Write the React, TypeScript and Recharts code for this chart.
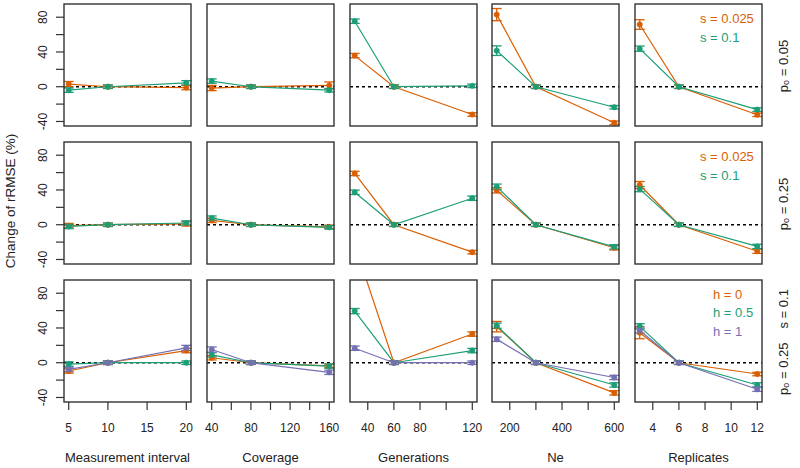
import React from 'react';
import { LineChart, Line, XAxis, YAxis, ReferenceLine, ErrorBar } from 'recharts';

// Dark2 palette
const ORANGE = '#D95F02';
const GREEN = '#1B9E77';
const PURPLE = '#7570B3';
const FONT = '"Liberation Sans", Arial, Helvetica, sans-serif';

// ---- x values / ticks per column ----
const intervalX = [5, 10, 20];
const coverageX = [40, 80, 160];
const generationsX = [30, 60, 120];
const neX = [150, 300, 600];
const replicatesX = [3, 6, 12];

const intervalTicks = [5, 10, 15, 20];
const coverageTicks = [40, 60, 80, 100, 120, 140, 160];
const generationsTicks = [40, 60, 80, 100, 120];
const neTicks = [200, 300, 400, 500, 600];
const replicatesTicks = [4, 6, 8, 10, 12];

const intervalLabels = [5, 10, 15, 20];
const coverageLabels = [40, 80, 120, 160];
const generationsLabels = [40, 60, 80, 120];
const neLabels = [200, 400, 600];
const replicatesLabels = [4, 6, 8, 10, 12];

const columnTitles = ['Measurement interval', 'Coverage', 'Generations', 'Ne', 'Replicates'];
const yTicks = [-40, -20, 0, 20, 40, 60, 80];
const yLabels = [-40, 0, 40, 80];

// ---- values, one inner array per column (interval, coverage, generations, Ne, replicates) ----
// p0 = 0.05
const p005S0025 = [[3, 0, -1], [-1.5, 0, 1.5], [35.8, 0, -32], [83, 0, -41.5], [71.6, 0, -32.3]];
const p005S0025Err = [[3, 2, 2.5], [3, 2, 4], [2.5, 2, 2], [7, 2, 2], [5.5, 2, 2]];
const p005S01 = [[-4, 0, 4.5], [6.5, 0, -4], [75.4, 0, 1], [41.5, 0, -23.6], [43.8, 0, -26.3]];
const p005S01Err = [[2.5, 2, 2.5], [2.5, 2, 2], [2.5, 2, 2], [5.5, 2, 2], [3, 2, 2]];
// p0 = 0.25
const p025S0025 = [[-1, 0, 1], [5, 0, -2.5], [59, 0, -31.6], [39.6, 0, -26.5], [45.7, 0, -30.5]];
const p025S0025Err = [[2.5, 2, 2.5], [2.5, 2, 2], [2.5, 2, 2], [3, 2, 2.5], [4, 2, 2.5]];
const p025S01 = [[-2, 0, 2], [7.6, 0, -3], [37.3, 0, 30.5], [43.8, 0, -25.5], [41, 0, -25]];
const p025S01Err = [[2.5, 2, 2.5], [2.5, 2, 2], [2.5, 2, 2.5], [3, 2, 2.5], [3, 2, 2.5]];
// p0 = 0.25, s = 0.1, dominance
const h0 = [[-9.5, 0, 14], [5.7, 0, -3.6], [136, 0, 33], [41.5, 0, -34.7], [34.6, 0, -13]];
const h0Err = [[2.5, 2, 2.5], [2.5, 2, 2], [3, 2, 2.5], [6, 2, 2.5], [7, 2, 2]];
const h05 = [[-1.5, 0, 0], [9, 0, -3.8], [59.4, 0, 14], [42.6, 0, -25.6], [41.9, 0, -25.6]];
const h05Err = [[2.5, 2, 2], [2.5, 2, 2.5], [3, 2, 2.5], [3, 2, 2.5], [3, 2, 2.5]];
const h1 = [[-7.7, 0, 17], [15.2, 0, -11], [16.7, 0, 0], [27, 0, -17], [37, 0, -30.5]];
const h1Err = [[2.5, 2, 3], [3, 2, 2.5], [2.5, 2, 2], [2.5, 2, 2.5], [3, 2, 2.5]];

const columnX = [intervalX, coverageX, generationsX, neX, replicatesX];
const columnTicks = [intervalTicks, coverageTicks, generationsTicks, neTicks, replicatesTicks];
const columnLabels = [intervalLabels, coverageLabels, generationsLabels, neLabels, replicatesLabels];

const ROWS = [
  {
    strip: '0.05', extra: '', legendX: 700,
    series: [
      { name: 's = 0.025', color: ORANGE, values: p005S0025, err: p005S0025Err },
      { name: 's = 0.1', color: GREEN, values: p005S01, err: p005S01Err },
    ],
  },
  {
    strip: '0.25', extra: '', legendX: 700,
    series: [
      { name: 's = 0.025', color: ORANGE, values: p025S0025, err: p025S0025Err },
      { name: 's = 0.1', color: GREEN, values: p025S01, err: p025S01Err },
    ],
  },
  {
    strip: '0.25', extra: 's = 0.1', legendX: 713,
    series: [
      { name: 'h = 0', color: ORANGE, values: h0, err: h0Err },
      { name: 'h = 0.5', color: GREEN, values: h05, err: h05Err },
      { name: 'h = 1', color: PURPLE, values: h1, err: h1Err },
    ],
  },
];

// ---- layout ----
const COL_LEFT = [64, 207, 350, 492, 635];
const ROW_TOP = [4, 142, 280];
const PW = 127;
const PH = 122;
const Y_AXIS_W = 64;
const X_AXIS_H = 40;
const M = 12; // breathing room so edge tick labels are not cut
const Y_DOMAIN: [number, number] = [-45.2, 95.2];

// R-style 4% padding
function padDomain(xs: number[]): [number, number] {
  const lo = Math.min(...xs);
  const hi = Math.max(...xs);
  const pad = (hi - lo) * 0.04;
  return [lo - pad, hi + pad];
}

function XTick({ x, y, payload, labels }: any) {
  if (!labels.includes(payload.value)) return <g />;
  return (
    <text x={x} y={y + 18} textAnchor="middle" dominantBaseline="central"
      fontSize={12} fill="#222" fontFamily={FONT}>
      {payload.value}
    </text>
  );
}

function YTick({ x, y, payload }: any) {
  if (!yLabels.includes(payload.value)) return <g />;
  const cx = x - 13;
  return (
    <text x={cx} y={y} transform={`rotate(-90 ${cx} ${y})`} textAnchor="middle"
      dominantBaseline="central" fontSize={12} fill="#222" fontFamily={FONT}>
      {payload.value}
    </text>
  );
}

function Panel({ r, c }: { r: number; c: number }) {
  const row = ROWS[r];
  const xs = columnX[c];
  const data = xs.map((x, i) => {
    const d: Record<string, number> = { x };
    row.series.forEach((s, k) => {
      d['v' + k] = s.values[c][i];
      d['e' + k] = s.err[c][i];
    });
    return d;
  });
  const first = c === 0;
  const last = r === 2;
  const width = PW + 2 * M + (first ? Y_AXIS_W : 0);
  const height = PH + 2 * M + (last ? X_AXIS_H : 0);

  return (
    <div style={{ position: 'absolute', left: COL_LEFT[c] - M - (first ? Y_AXIS_W : 0), top: ROW_TOP[r] - M }}>
      <LineChart width={width} height={height} data={data} margin={{ top: M, right: M, bottom: M, left: M }}>
        <XAxis
          dataKey="x"
          type="number"
          domain={padDomain(xs)}
          allowDataOverflow
          ticks={columnTicks[c]}
          interval={0}
          hide={!last}
          height={X_AXIS_H}
          tickSize={8}
          tickMargin={0}
          axisLine={false}
          tickLine={{ stroke: '#333', strokeWidth: 1.2 }}
          tick={(p: any) => <XTick {...p} labels={columnLabels[c]} />}
        />
        <YAxis
          type="number"
          domain={Y_DOMAIN}
          allowDataOverflow
          ticks={yTicks}
          interval={0}
          hide={!first}
          width={Y_AXIS_W}
          tickSize={8}
          tickMargin={0}
          axisLine={false}
          tickLine={{ stroke: '#333', strokeWidth: 1.2 }}
          tick={(p: any) => <YTick {...p} />}
        />
        <ReferenceLine y={0} stroke="#000" strokeWidth={1.4} strokeDasharray="3 3" />
        {row.series.map((s, k) => (
          <Line
            key={s.name}
            type="linear"
            dataKey={'v' + k}
            stroke={s.color}
            strokeWidth={1.2}
            dot={{ r: 2.7, fill: s.color, stroke: s.color, strokeWidth: 0.5 }}
            activeDot={false}
            isAnimationActive={false}
          >
            <ErrorBar dataKey={'e' + k} width={5} stroke={s.color} strokeWidth={1.3} direction="y" />
          </Line>
        ))}
      </LineChart>
    </div>
  );
}

export default function App() {
  return (
    <div style={{ position: 'absolute', left: 0, top: 0, width: 800, height: 468, background: '#fff', overflow: 'hidden' }}>
      {ROWS.map((_, r) => columnX.map((__, c) => <Panel key={`${r}-${c}`} r={r} c={c} />))}
      <svg width={800} height={468} style={{ position: 'absolute', left: 0, top: 0, pointerEvents: 'none' }}>
        {/* panel frames */}
        {ROW_TOP.map((top) => COL_LEFT.map((left) => (
          <rect key={`${top}-${left}`} x={left} y={top} width={PW} height={PH}
            fill="none" stroke="#333" strokeWidth={1.4} />
        )))}

        {/* y title */}
        <text x={10} y={201} transform="rotate(-90 10 201)" textAnchor="middle" dominantBaseline="central"
          fontSize={13.5} fill="#222" fontFamily={FONT}>
          Change of rRMSE (%)
        </text>

        {/* x titles */}
        {columnTitles.map((t, c) => (
          <text key={t} x={COL_LEFT[c] + PW / 2} y={462} textAnchor="middle"
            fontSize={13} fill="#222" fontFamily={FONT}>
            {t}
          </text>
        ))}

        {/* legends */}
        {ROWS.map((row, r) => row.series.map((s, k) => (
          <text key={`${r}-${s.name}`} x={row.legendX} y={ROW_TOP[r] + 14 + k * (r === 2 ? 18.7 : 19.5)}
            dominantBaseline="central" fontSize={13} fill={s.color} fontFamily={FONT}>
            {s.name}
          </text>
        )))}

        {/* row strips */}
        {ROWS.map((row, r) => {
          const cx = 783;
          const cy = ROW_TOP[r] + PH / 2 + 1;
          return (
            <text key={`strip-${r}`} x={cx} y={cy} transform={`rotate(-90 ${cx} ${cy})`} textAnchor="middle"
              dominantBaseline="central" fontSize={13} fill="#222" fontFamily={FONT}>
              p<tspan fontSize={9} dy={3}>o</tspan>
              <tspan dy={-3}>{` = ${row.strip}`}</tspan>
              {row.extra && <tspan dx={14}>{row.extra}</tspan>}
            </text>
          );
        })}
      </svg>
    </div>
  );
}
